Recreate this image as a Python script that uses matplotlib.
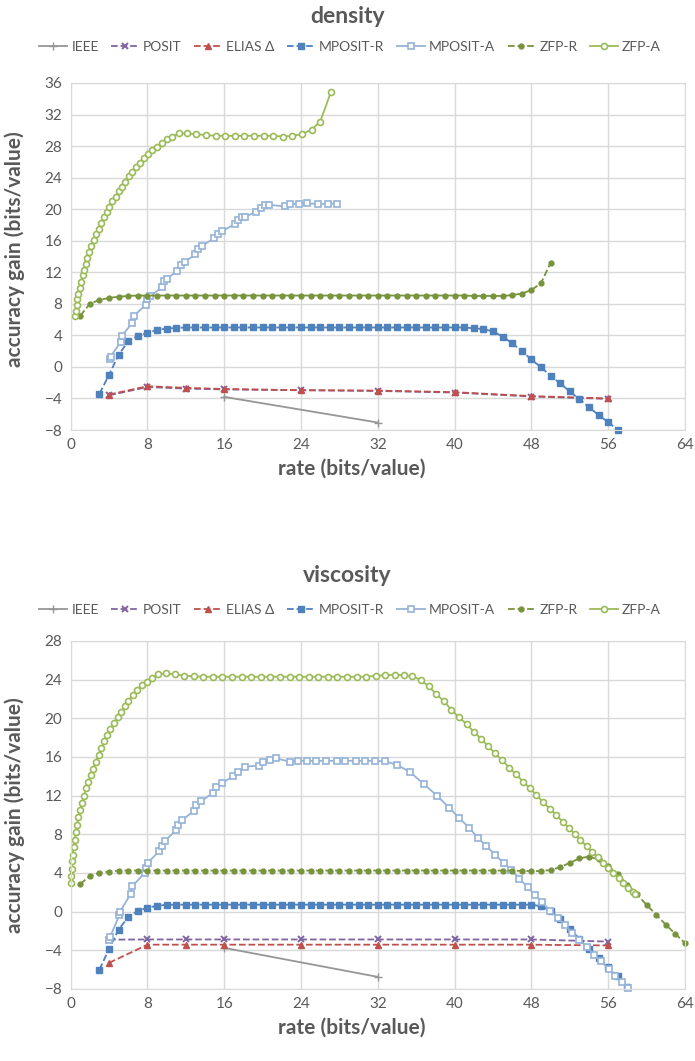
import matplotlib
matplotlib.use("Agg")
import matplotlib.pyplot as plt

plt.rcParams['font.family'] = ['Lato', 'DejaVu Sans']

# ---------------- density ----------------
d_ieee_x = [16, 32]
d_ieee_y = [-3.8, -7.05]

d_posit_x = [4, 8, 12, 16, 24, 32, 40, 48, 56]
d_posit_y = [-3.6, -2.55, -2.75, -2.85, -2.95, -3.05, -3.25, -3.75, -4.05]

d_elias_x = [4, 8, 12, 16, 24, 32, 40, 48, 56]
d_elias_y = [-3.5, -2.45, -2.65, -2.8, -2.95, -3.0, -3.2, -3.7, -4.0]

d_mpr_x = [3, 4, 5, 6, 7, 8, 9, 10, 11, 12, 13, 14, 15, 16, 17, 18, 19, 20,
           21, 22, 23, 24, 25, 26, 27, 28, 29, 30, 31, 32, 33, 34, 35, 36, 37,
           38, 39, 40, 41, 42, 43, 44, 45, 46, 47, 48, 49, 50, 51, 52, 53, 54,
           55, 56, 57]
d_mpr_y = [-3.4, -1.0, 1.55, 3.25, 3.95, 4.3, 4.7, 4.85, 4.95, 5.0, 5.0, 5.0,
           5.0, 5.0, 5.0, 5.0, 5.0, 5.0, 5.0, 5.0, 5.0, 5.0, 5.0, 5.0, 5.0, 5.0,
           5.0, 5.0, 5.0, 5.0, 5.0, 5.0, 5.0, 5.0, 5.0, 5.0, 5.0, 5.0, 5.0, 4.9,
           4.8, 4.5, 3.85, 3.0, 2.0, 0.95, -0.05, -1.1, -2.1, -3.1, -4.1, -5.1,
           -6.1, -7.0, -8.0]

d_mpa_x = [4.06, 4.15, 5.2, 5.3, 6.4, 6.6, 7.8, 8.0, 8.3, 9.5, 9.7, 10.0, 11.1,
           11.5, 11.9, 13.0, 13.3, 13.7, 14.9, 15.3, 15.8, 17.1, 17.4, 17.8,
           18.2, 19.3, 19.8, 20.2, 20.7, 22.3, 22.9, 23.8, 24.6, 25.8, 26.8, 27.7]
d_mpa_y = [1.05, 1.3, 3.15, 3.9, 5.55, 6.5, 7.85, 8.55, 8.95, 10.1, 10.85, 11.15,
           12.2, 12.95, 13.3, 14.3, 14.95, 15.35, 16.3, 16.9, 17.25, 18.1, 18.6,
           19.0, 19.05, 19.65, 20.1, 20.5, 20.55, 20.35, 20.65, 20.7, 20.75,
           20.65, 20.7, 20.7]

d_zfpr_x = [1, 2, 3, 4, 5, 6, 7, 8, 9, 10, 11, 12, 13, 14, 15, 16, 17, 18, 19,
            20, 21, 22, 23, 24, 25, 26, 27, 28, 29, 30, 31, 32, 33, 34, 35, 36,
            37, 38, 39, 40, 41, 42, 43, 44, 45, 46, 47, 48, 49, 50]
d_zfpr_y = [6.5, 8.0, 8.5, 8.75, 8.9, 9.0, 9.05, 9.05, 9.05, 9.05, 9.05, 9.05,
            9.05, 9.05, 9.05, 9.05, 9.05, 9.05, 9.05, 9.05, 9.05, 9.05, 9.05,
            9.05, 9.05, 9.05, 9.05, 9.05, 9.05, 9.05, 9.05, 9.05, 9.05, 9.05,
            9.05, 9.05, 9.05, 9.05, 9.05, 9.05, 9.05, 9.0, 9.0, 9.0, 9.0, 9.1,
            9.3, 9.75, 10.6, 13.2]

d_zfpa_x = [0.45, 0.55, 0.62, 0.7, 0.8, 0.95, 1.1, 1.25, 1.4, 1.58, 1.75, 1.92,
            2.15, 2.4, 2.65, 2.9, 3.2, 3.5, 3.75, 4.0, 4.35, 4.7, 5.0, 5.35,
            5.7, 6.1, 6.4, 6.8, 7.2, 7.6, 8.05, 8.5, 9.0, 9.5, 10.0, 10.6, 11.25,
            12.1, 13.1, 14.1, 15.1, 16.1, 17.1, 18.1, 19.1, 20.1, 21.1, 22.1,
            23.1, 24.1, 25.1, 26.0, 27.1]
d_zfpa_y = [6.4, 7.1, 7.85, 8.6, 9.3, 10.05, 10.8, 11.6, 12.3, 13.0, 13.8, 14.6,
            15.35, 16.1, 16.8, 17.5, 18.2, 18.95, 19.6, 20.3, 21.0, 21.6, 22.25,
            22.8, 23.5, 24.2, 24.75, 25.3, 25.9, 26.5, 26.95, 27.5, 27.9, 28.4,
            28.85, 29.2, 29.6, 29.6, 29.5, 29.4, 29.3, 29.3, 29.3, 29.3, 29.3,
            29.3, 29.3, 29.2, 29.3, 29.5, 30.1, 31.1, 34.8]

# ---------------- viscosity ----------------
v_ieee_x = [16, 32]
v_ieee_y = [-3.75, -6.75]

v_posit_x = [4, 8, 12, 16, 24, 32, 40, 48, 56]
v_posit_y = [-2.9, -2.88, -2.88, -2.88, -2.88, -2.88, -2.88, -2.88, -3.1]

v_elias_x = [4, 8, 12, 16, 24, 32, 40, 48, 56]
v_elias_y = [-5.3, -3.42, -3.42, -3.42, -3.42, -3.42, -3.42, -3.42, -3.5]

v_mpr_x = [3, 4, 5, 6, 7, 8, 9, 10, 11, 12, 13, 14, 15, 16, 17, 18, 19, 20, 21,
           22, 23, 24, 25, 26, 27, 28, 29, 30, 31, 32, 33, 34, 35, 36, 37, 38,
           39, 40, 41, 42, 43, 44, 45, 46, 47, 48, 49, 50, 51, 52, 53, 54, 55,
           56, 57, 58]
v_mpr_y = [-6.0, -3.85, -1.85, -0.55, 0.1, 0.4, 0.6, 0.7, 0.72, 0.72, 0.72,
           0.72, 0.72, 0.72, 0.72, 0.72, 0.72, 0.72, 0.72, 0.72, 0.72, 0.72,
           0.72, 0.72, 0.72, 0.72, 0.72, 0.72, 0.72, 0.72, 0.72, 0.72, 0.72,
           0.72, 0.72, 0.72, 0.72, 0.72, 0.72, 0.72, 0.72, 0.72, 0.72, 0.72,
           0.72, 0.72, 0.55, 0.1, -0.8, -1.8, -2.8, -3.9, -4.8, -5.7, -6.7, -7.8]

v_mpa_x = [4.0, 4.1, 5.05, 5.15, 6.25, 6.4, 7.7, 7.8, 8.05, 9.2, 9.5, 9.8,
           10.95, 11.2, 11.6, 12.8, 13.1, 13.6, 14.8, 15.1, 15.8, 16.9, 17.4,
           18.2, 19.6, 20.0, 20.8, 21.4, 22.9, 23.7, 24.6, 25.6, 26.6, 27.7,
           28.6, 29.7, 30.7, 31.7, 32.7, 34.0, 35.4, 36.8, 38.15, 39.45, 40.5,
           41.5, 42.4, 43.3, 44.2, 45.1, 45.9, 46.75, 47.6, 48.35, 49.1, 49.95,
           50.75, 51.5, 52.25, 53.0, 53.8, 54.55, 55.3, 56.05, 56.75, 57.4, 58.1]
v_mpa_y = [-2.9, -2.65, -0.4, 0.0, 1.85, 2.6, 4.0, 4.5, 5.05, 6.25, 6.8, 7.3,
           8.4, 9.0, 9.45, 10.4, 11.0, 11.4, 12.3, 12.85, 13.3, 14.0, 14.45,
           15.0, 15.1, 15.45, 15.65, 15.85, 15.5, 15.6, 15.6, 15.6, 15.6, 15.6,
           15.6, 15.6, 15.6, 15.6, 15.55, 15.2, 14.4, 13.2, 12.0, 10.75, 9.65,
           8.7, 7.65, 6.8, 5.9, 5.05, 4.3, 3.4, 2.55, 1.75, 1.0, 0.1, -0.65,
           -1.4, -2.2, -2.9, -3.7, -4.45, -5.15, -5.95, -6.65, -7.3, -7.9]

v_zfpr_x = [1, 2, 3, 4, 5, 6, 7, 8, 9, 10, 11, 12, 13, 14, 15, 16, 17, 18, 19,
            20, 21, 22, 23, 24, 25, 26, 27, 28, 29, 30, 31, 32, 33, 34, 35, 36,
            37, 38, 39, 40, 41, 42, 43, 44, 45, 46, 47, 48, 49, 50, 51, 52, 53,
            54, 55, 56, 57, 58, 59, 60, 61, 62, 63, 64]
v_zfpr_y = [2.85, 3.7, 4.0, 4.15, 4.25, 4.25, 4.25, 4.25, 4.25, 4.25, 4.25,
            4.25, 4.25, 4.25, 4.25, 4.25, 4.25, 4.25, 4.25, 4.25, 4.25, 4.25,
            4.25, 4.25, 4.25, 4.25, 4.25, 4.25, 4.25, 4.25, 4.25, 4.25, 4.25,
            4.25, 4.25, 4.25, 4.25, 4.25, 4.25, 4.25, 4.25, 4.25, 4.25, 4.25,
            4.25, 4.25, 4.2, 4.2, 4.2, 4.3, 4.6, 5.05, 5.5, 5.7, 5.4, 4.7, 3.85,
            2.8, 1.8, 0.7, -0.3, -1.35, -2.3, -3.25]

v_zfpa_x = [0.08, 0.08, 0.1, 0.15, 0.22, 0.3, 0.4, 0.53, 0.67, 0.8, 0.97, 1.17,
            1.38, 1.6, 1.85, 2.1, 2.35, 2.6, 2.9, 3.2, 3.5, 3.8, 4.1, 4.5, 4.9,
            5.25, 5.65, 6.0, 6.45, 6.9, 7.4, 7.9, 8.45, 9.05, 9.9, 10.9, 11.8,
            12.8, 13.8, 14.8, 15.8, 16.8, 17.8, 18.8, 19.8, 20.8, 21.8, 22.8,
            23.8, 24.8, 25.8, 26.8, 27.8, 28.8, 29.8, 30.8, 31.8, 32.8, 33.8,
            34.7, 35.6, 36.5, 37.3, 38.1, 38.9, 39.65, 40.45, 41.25, 42.0, 42.8,
            43.5, 44.2, 44.95, 45.7, 46.4, 47.15, 47.85, 48.5, 49.2, 49.9, 50.6,
            51.25, 51.9, 52.5, 53.1, 53.75, 54.3, 54.9, 55.45, 56.0, 56.55, 57.1,
            57.6, 58.1, 58.55, 58.75]
v_zfpa_y = [3.0, 3.7, 4.4, 5.2, 5.9, 6.7, 7.4, 8.2, 9.0, 9.75, 10.5, 11.25, 12.0,
            12.75, 13.45, 14.1, 14.8, 15.5, 16.2, 16.9, 17.6, 18.25, 18.9, 19.5,
            20.1, 20.65, 21.3, 21.8, 22.4, 22.9, 23.4, 23.8, 24.15, 24.55, 24.65,
            24.55, 24.4, 24.35, 24.3, 24.3, 24.3, 24.3, 24.3, 24.3, 24.3, 24.3,
            24.3, 24.3, 24.3, 24.3, 24.3, 24.3, 24.3, 24.3, 24.3, 24.3, 24.4,
            24.45, 24.5, 24.45, 24.35, 23.95, 23.3, 22.5, 21.75, 20.9, 20.1,
            19.4, 18.6, 17.85, 17.1, 16.4, 15.65, 14.9, 14.2, 13.45, 12.75, 12.1,
            11.35, 10.65, 10.0, 9.3, 8.7, 8.0, 7.4, 6.8, 6.2, 5.65, 5.05, 4.55,
            4.0, 3.5, 3.0, 2.45, 2.0, 1.8]

labels = ['IEEE', 'POSIT', 'ELIAS Δ', 'MPOSIT-R', 'MPOSIT-A', 'ZFP-R', 'ZFP-A']

gray_txt = '#595959'
grid_c = '#d9d9d9'


def draw(ax, data, ylim, title, title_y, leg_y, ylab_y):
    styles = [
        dict(color='#969696', ls='-', marker='+', ms=6, mew=1.0, lw=1.3),
        dict(color='#8064a2', ls='--', marker='x', ms=5, mew=1.4, lw=1.3),
        dict(color='#c0504d', ls='--', marker='^', ms=4, lw=1.3),
        dict(color='#4f81bd', ls='--', marker='s', ms=4.2, lw=1.3),
        dict(color='#95b3d7', ls='-', marker='s', ms=4.5, mfc='white', mew=1.2, lw=1.3),
        dict(color='#77933c', ls='--', marker='o', ms=3.5, lw=1.3),
        dict(color='#9bbb59', ls='-', marker='o', ms=4.3, mfc='white', mew=1.2, lw=1.3),
    ]
    for (x, y), st, lab in zip(data, styles, labels):
        ax.plot(x, y, label=lab, clip_on=False, **st)

    ax.set_xlim(0, 64)
    ax.set_ylim(*ylim)
    ax.set_xticks(range(0, 65, 8))
    ax.set_yticks(range(ylim[0], ylim[1] + 1, 4))
    ax.grid(True, color=grid_c, lw=1)
    ax.set_axisbelow(True)
    for sp in ax.spines.values():
        sp.set_color(grid_c)
    ax.tick_params(length=0, labelsize=11, labelcolor=gray_txt, pad=6)
    ax.set_xlabel('rate (bits/value)', fontsize=15, fontweight='bold',
                  color=gray_txt)
    ax.xaxis.set_label_coords(0.457, -0.083)
    ax.set_ylabel('accuracy gain (bits/value)', fontsize=15, fontweight='bold',
                  color=gray_txt)
    ax.yaxis.set_label_coords(-0.075, ylab_y)
    fig.text(0.5, title_y, title, fontsize=16.5, fontweight='bold',
             color=gray_txt, ha='center', va='center')
    ax.legend(loc='center', bbox_to_anchor=(0.455, leg_y), ncol=7, frameon=False,
              fontsize=10, labelcolor=gray_txt, handlelength=2.0,
              handletextpad=0.3, columnspacing=0.9, borderaxespad=0)


fig = plt.figure(figsize=(6.95, 10.61), dpi=100)

ax1 = fig.add_axes([0.1017, 0.5947, 0.8838, 0.3271])
draw(ax1, [(d_ieee_x, d_ieee_y), (d_posit_x, d_posit_y), (d_elias_x, d_elias_y),
           (d_mpr_x, d_mpr_y), (d_mpa_x, d_mpa_y), (d_zfpr_x, d_zfpr_y),
           (d_zfpa_x, d_zfpa_y)], (-8, 36), 'density', 0.9845, 1.105, 0.52)

ax2 = fig.add_axes([0.1017, 0.0679, 0.8838, 0.3280])
draw(ax2, [(v_ieee_x, v_ieee_y), (v_posit_x, v_posit_y), (v_elias_x, v_elias_y),
           (v_mpr_x, v_mpr_y), (v_mpa_x, v_mpa_y), (v_zfpr_x, v_zfpr_y),
           (v_zfpa_x, v_zfpa_y)], (-8, 28), 'viscosity', 0.4575, 1.09, 0.5)

fig.savefig('out.png', dpi=100)
